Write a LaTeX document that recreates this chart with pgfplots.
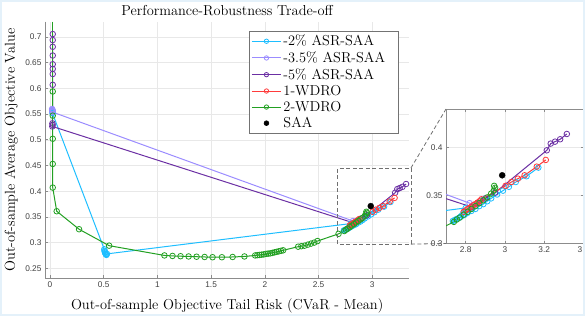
\documentclass[border=0pt]{standalone}
\usepackage{fontspec}
\setsansfont{Liberation Sans}
\usepackage{pgfplots}
\usepackage{pgfplotstable}
\pgfplotsset{compat=1.18}

\definecolor{cA}{HTML}{1EBEFF}
\definecolor{cB}{HTML}{9B8CFF}
\definecolor{cC}{HTML}{6B2FA3}
\definecolor{cD}{HTML}{FF3B3B}
\definecolor{cE}{HTML}{22A022}
\definecolor{axgray}{HTML}{8C8C8C}
\definecolor{tickgray}{HTML}{404040}
\definecolor{rectgray}{HTML}{707070}
\definecolor{frameblue}{HTML}{E4F1FA}

\pgfplotstableread{
x y
0.020 0.558
0.023 0.556
0.025 0.554
0.022 0.552
0.505 0.287
0.507 0.284
0.510 0.282
0.513 0.280
0.517 0.278
0.521 0.277
0.525 0.276
0.530 0.278
2.800 0.337
2.735 0.3235
2.745 0.3245
2.755 0.3255
2.765 0.3265
2.775 0.328
2.785 0.329
2.795 0.330
2.810 0.332
2.830 0.334
2.850 0.336
2.870 0.339
2.890 0.341
2.910 0.344
2.930 0.347
2.960 0.351
2.990 0.355
3.020 0.359
3.055 0.364
3.110 0.370
3.170 0.379
}\dataA

\pgfplotstableread{
x y
0.019 0.560
0.021 0.558
0.023 0.557
0.025 0.556
0.022 0.554
2.820 0.342
2.840 0.340
2.860 0.342
2.880 0.345
}\dataB

\pgfplotstableread{
x y
0.025 0.7057
0.025 0.694
0.025 0.681
0.025 0.664
0.025 0.647
0.025 0.638
0.025 0.628
0.025 0.607
0.022 0.532
0.024 0.529
0.021 0.526
2.830 0.338
2.860 0.342
2.900 0.347
2.950 0.353
3.213 0.397
3.233 0.404
3.255 0.406
3.281 0.4085
3.315 0.414
}\dataC

\pgfplotstableread{
x y
2.790 0.333
2.800 0.3345
2.810 0.336
2.820 0.337
2.830 0.3385
2.840 0.340
2.850 0.341
2.860 0.3425
2.870 0.344
2.880 0.346
3.003 0.360
3.033 0.364
3.066 0.3675
3.100 0.371
3.162 0.380
3.208 0.387
}\dataD

% top segment of 2-WDRO leaving the axis (no marker visible)
\pgfplotstableread{
x y
0.025 0.7298
0.025 0.594
}\dataEtop

\pgfplotstableread{
x y
0.025 0.594
0.025 0.547
0.025 0.502
0.025 0.453
0.025 0.407
0.062 0.361
0.270 0.326
0.550 0.294
1.065 0.275
1.140 0.274
1.215 0.2735
1.290 0.273
1.364 0.2725
1.439 0.272
1.513 0.2715
1.600 0.2715
1.700 0.272
1.810 0.273
1.910 0.275
1.930 0.2755
1.950 0.276
1.970 0.2765
1.990 0.277
2.010 0.278
2.030 0.2785
2.050 0.279
2.070 0.280
2.090 0.281
2.110 0.282
2.130 0.283
2.150 0.284
2.170 0.285
2.310 0.292
2.340 0.293
2.370 0.294
2.400 0.296
2.430 0.298
2.460 0.300
2.490 0.303
2.686 0.317
2.740 0.3225
2.755 0.325
2.770 0.327
2.790 0.330
2.810 0.333
2.830 0.336
2.850 0.339
2.870 0.342
2.890 0.345
2.910 0.348
2.930 0.352
2.943 0.355
2.950 0.358
2.945 0.360
}\dataE

\pgfplotstableread{
x y
2.986 0.371
}\dataF

\pgfplotsset{
  base/.style={
    scale only axis,
    axis line style={draw=axgray, line width=0.6pt},
    every tick/.style={draw=axgray, line width=0.6pt},
    tick align=inside,
    major tick length=3pt,
    grid=major,
    grid style={draw=black!9, line width=0.5pt},
    ticklabel style={font=\sffamily\fontsize{8.3}{10}\selectfont, text=tickgray},
    /pgf/number format/assume math mode=true,
    legend image code/.code={\draw[mark repeat=2,mark phase=2,##1,mark size=2.2pt] plot coordinates {(0pt,0pt)(14.5pt,0pt)(29pt,0pt)};},
  },
  ser/.style={color=#1, line width=1pt, mark=o, mark size=2.8pt, mark options={line width=0.8pt}},
}

\newcommand\allplots{%
  \addplot[ser=cA] table {\dataA};
  \addplot[ser=cB] table {\dataB};
  \addplot[ser=cC] table {\dataC};
  \addplot[ser=cD] table {\dataD};
  \addplot[cE, line width=1pt, forget plot] table {\dataEtop};
  \addplot[ser=cE] table {\dataE};
  \addplot[only marks, mark=*, mark size=3pt, color=black,
    legend image code/.code={\fill[black] (14.5pt,0pt) circle (2.4pt);}] table {\dataF};
}

\begin{document}
\begin{tikzpicture}
\begin{axis}[base, name=main,
  at={(45pt,37.7pt)}, anchor=south west,
  width=364.3pt, height=256.6pt,
  xmin=-0.047, xmax=3.345, ymin=0.2305, ymax=0.7298,
  axis line style={draw=none},
  xtick pos=left, ytick pos=left,
  clip=true,
  xtick={0,0.5,1,1.5,2,2.5,3},
  ytick={0.25,0.3,0.35,0.4,0.45,0.5,0.55,0.6,0.65,0.7},
  every axis title shift=0pt,
  title={Performance-Robustness Trade-off},
  title style={at={(axis description cs:0.5,1.026)}, anchor=base, font=\fontsize{14.4}{17}\selectfont},
  xlabel={Out-of-sample Objective Tail Risk (CVaR - Mean)},
  xlabel style={at={(axis description cs:0.5,-0.121)}, anchor=base, font=\fontsize{14.4}{17}\selectfont},
  ylabel={Out-of-sample Average Objective Value},
  ylabel style={at={(axis description cs:-0.0824,0.5)}, anchor=base, rotate=0, font=\fontsize{14.4}{17}\selectfont},
  legend entries={-2\% ASR-SAA,-3.5\% ASR-SAA\hspace*{9pt},-5\% ASR-SAA,1-WDRO,2-WDRO,SAA},
  legend style={at={(axis description cs:0.5604,0.9645)}, anchor=north west,
    draw=black!55, line width=0.6pt, fill=white,
    font=\fontsize{14.4}{17}\selectfont, cells={anchor=west},
    row sep=0.4pt, inner xsep=2pt, inner ysep=2pt},
]
\allplots
\coordinate (rbl) at (axis cs:2.68,0.297);
\coordinate (rtr) at (axis cs:3.36,0.445);
\end{axis}
\draw[axgray, line width=0.6pt] (main.north west) -- (main.south west) -- (main.south east);
\draw[rectgray, line width=0.8pt, dash pattern=on 4pt off 2.5pt] (rbl) rectangle (rtr);

\begin{axis}[base, name=inset,
  at={(446pt,72.5pt)}, anchor=south west,
  width=137.5pt, height=134.5pt,
  xmin=2.7, xmax=3.4, ymin=0.3, ymax=0.44,
  xtick={2.8,3,3.2,3.4},
  ytick={0.3,0.35,0.4},
  axis background/.style={fill=white},
]
\allplots
\end{axis}
\draw[rectgray, line width=0.8pt, dash pattern=on 4pt off 2.5pt] (rtr) -- (inset.north west);
\draw[rectgray, line width=0.8pt, dash pattern=on 4pt off 2.5pt] (rtr |- rbl) -- (inset.south west);
\draw[frameblue, line width=2pt] (1pt,1pt) rectangle (584pt,315pt);
\pgfresetboundingbox
\path[use as bounding box] (0pt,0pt) rectangle (585pt,316pt);
\end{tikzpicture}
\end{document}
